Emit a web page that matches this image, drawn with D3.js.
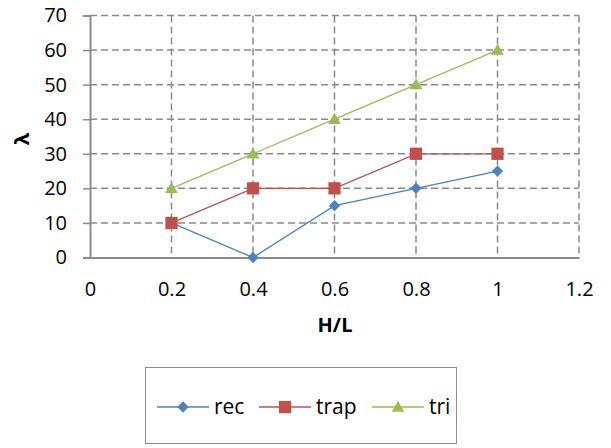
<!DOCTYPE html>
<html><head><meta charset="utf-8">
<script src="https://cdn.jsdelivr.net/npm/d3@7"></script>
<style>body{margin:0;background:#fff;}svg{display:block;font-family:"Open Sans",sans-serif;}</style>
</head><body>
<svg id="c" width="611" height="448"></svg>
<script>
const xValues = [0.2, 0.4, 0.6, 0.8, 1];
const recValues = [10, 0, 15, 20, 25];
const trapValues = [10, 20, 20, 30, 30];
const triValues = [20, 30, 40, 50, 60];
const xTicks = [0, 0.2, 0.4, 0.6, 0.8, 1, 1.2];
const yTicks = [0, 10, 20, 30, 40, 50, 60, 70];
const seriesNames = ["rec", "trap", "tri"];
const seriesColors = ["#4F81BD", "#C0504D", "#9BBB59"];
const series = [recValues, trapValues, triValues];

const svg = d3.select("#c");
const x = d3.scaleLinear().domain([0, 1.2]).range([90, 579]);
const y = d3.scaleLinear().domain([0, 70]).range([257.5, 15.5]);
const gridColor = "#8a8a8a";
const fs = 20;

// marker drawing
function marker(g, k, cx, cy) {
  if (k === 0) {
    g.append("path").attr("transform", `translate(${cx},${cy}) rotate(45)`)
      .attr("d", d3.symbol().type(d3.symbolSquare).size(64)).attr("fill", seriesColors[k]);
  } else if (k === 1) {
    g.append("path").attr("transform", `translate(${cx},${cy})`)
      .attr("d", d3.symbol().type(d3.symbolSquare).size(150)).attr("fill", seriesColors[k]);
  } else {
    g.append("path").attr("transform", `translate(${cx},${cy + 1})`)
      .attr("d", d3.symbol().type(d3.symbolTriangle).size(70)).attr("fill", seriesColors[k]);
  }
}

// horizontal gridlines
svg.append("g").selectAll("line").data(yTicks.filter(d => d > 0)).join("line")
  .attr("x1", 90).attr("x2", 579).attr("y1", d => y(d)).attr("y2", d => y(d))
  .attr("stroke", gridColor).attr("stroke-width", 1.5).attr("stroke-dasharray", "7,4");
// vertical gridlines
svg.append("g").selectAll("line").data(xTicks.filter(d => d > 0)).join("line")
  .attr("x1", d => x(d)).attr("x2", d => x(d)).attr("y1", 15.5).attr("y2", 257.5)
  .attr("stroke", gridColor).attr("stroke-width", 1.5).attr("stroke-dasharray", "7,4");

// axes
const yAxis = d3.axisLeft(y).tickValues(yTicks).tickSize(7).tickPadding(16).tickFormat(d3.format("d"));
const gy = svg.append("g").attr("transform", "translate(90,0)").call(yAxis);
gy.select(".domain").attr("stroke", "#8c8c8c").attr("stroke-width", 2);
gy.selectAll(".tick line").attr("stroke", "#8c8c8c").attr("stroke-width", 1.5);
gy.selectAll("text").attr("font-size", fs).attr("fill", "#000").attr("font-family", "Open Sans");

const xAxis = d3.axisBottom(x).tickValues(xTicks).tickSize(0).tickPadding(24).tickFormat(d => d3.format("")(d));
const gx = svg.append("g").attr("transform", "translate(0,257.5)").call(xAxis);
gx.select(".domain").attr("stroke", "#8c8c8c").attr("stroke-width", 2);
gx.selectAll("text").attr("font-size", fs).attr("fill", "#000").attr("font-family", "Open Sans");

// axis titles
svg.append("text").attr("x", 335).attr("y", 332).attr("text-anchor", "middle")
  .attr("font-weight", "bold").attr("font-size", fs).text("H/L");
svg.append("text").attr("transform", "translate(29,139) rotate(-90)").attr("text-anchor", "middle")
  .attr("font-weight", "bold").attr("font-size", fs).text("λ");

// series
const line = d3.line().x((d, i) => x(xValues[i])).y(d => y(d));
series.forEach((vals, k) => {
  svg.append("path").datum(vals).attr("d", line).attr("fill", "none")
    .attr("stroke", seriesColors[k]).attr("stroke-width", 1.3);
  const g = svg.append("g");
  vals.forEach((d, i) => marker(g, k, x(xValues[i]), y(d)));
});

// legend
svg.append("rect").attr("x", 145.5).attr("y", 367.5).attr("width", 311).attr("height", 76)
  .attr("fill", "none").attr("stroke", "#8c8c8c").attr("stroke-width", 1);
const legX = [157, 259, 372];
const legY = 407;
seriesNames.forEach((name, k) => {
  const g = svg.append("g");
  g.append("line").attr("x1", legX[k]).attr("x2", legX[k] + 52).attr("y1", legY).attr("y2", legY)
    .attr("stroke", seriesColors[k]).attr("stroke-width", 1.3);
  marker(g, k, legX[k] + 26, legY);
  g.append("text").attr("x", legX[k] + 57).attr("y", legY + 7).attr("font-size", 21).text(name);
});
</script>
</body></html>
